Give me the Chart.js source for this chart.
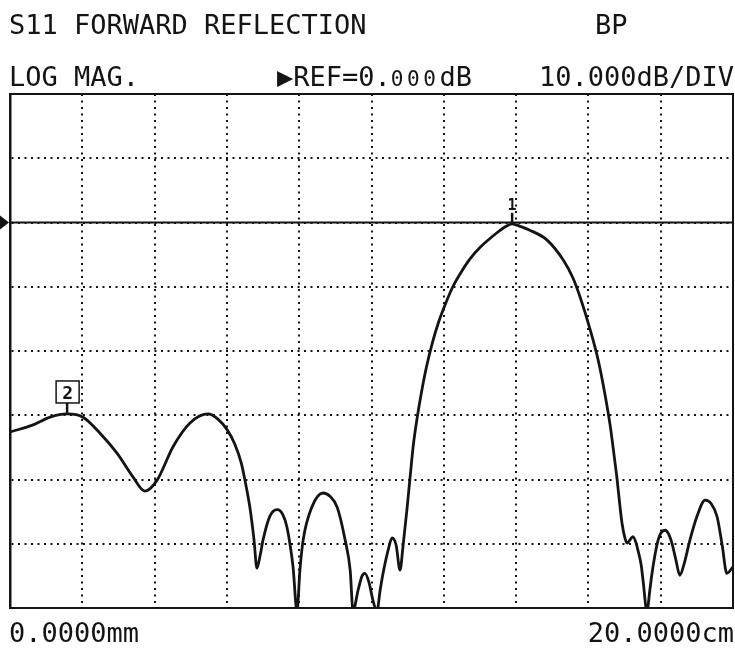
<!DOCTYPE html>
<html><head><meta charset="utf-8">
<script src="https://cdn.jsdelivr.net/npm/chart.js@4"></script>
<style>
html,body{margin:0;padding:0;background:#fff;overflow:hidden;}
#wrap{position:relative;width:735px;height:652px;}
canvas{position:absolute;left:0;top:0;}
.t{position:absolute;font-family:"DejaVu Sans Mono",monospace;font-size:27px;line-height:27px;color:#141414;white-space:pre;}
.s{font-size:21px;letter-spacing:3.6px;}
</style></head><body>
<div id="wrap">
<canvas id="c" width="735" height="652"></canvas>
<div class="t" style="left:9px;top:11px">S11 FORWARD REFLECTION</div>
<div class="t" style="left:595px;top:11px">BP</div>
<div class="t" style="left:9px;top:63px">LOG MAG.</div>
<div class="t" style="left:277px;top:63px">▶REF=0.<span class="s">000</span>dB</div>
<div class="t" style="right:1px;top:63px">10.000dB/DIV</div>
<div class="t" style="left:9px;top:619px">0.0000mm</div>
<div class="t" style="right:1px;top:619px">20.0000cm</div>
</div>
<script>
// Distance (mm) and S11 magnitude (dB)
const distanceMm = [0,6.4,11.1,15.8,20.2,24.9,29.6,34.0,37.3,40.7,45.1,49.8,54.8,57.5,60.0,62.2,64.0,65.3,66.4,67.5,68.3,69.2,70.0,71.9,73.9,75.5,76.6,77.7,78.3,79.4,80.2,81.1,83.5,86.6,88.5,90.5,92.7,94.1,94.9,96.3,97.4,98.2,99.3,100.4,101.5,102.4,103.2,104.6,105.7,106.8,107.9,108.7,109.8,110.7,111.6,112.6,113.8,115.2,116.8,118.5,120.5,122.5,124.5,127.2,130.0,134.7,136.9,138.9,141.1,143.8,148.5,153.0,155.7,157.7,160.5,162.7,164.6,166.0,167.1,167.9,168.7,169.3,170.1,170.7,171.5,172.3,173.2,173.7,174.6,175.1,176.2,177.0,177.6,178.4,179.3,180.1,181.2,182.3,183.1,184.2,185.3,186.4,188.1,190.0,192.3,193.9,195.6,197.0,198.3,200];
const s11dB = [-32.6,-31.5,-30.3,-29.8,-30.3,-32.8,-35.9,-39.6,-41.8,-40.1,-34.9,-31.2,-29.8,-30.6,-32.2,-34.5,-37.5,-41.0,-44.5,-49.4,-53.8,-51.8,-49.4,-45.7,-44.7,-45.5,-47.4,-51.0,-53.6,-60.5,-54.1,-49.4,-44.3,-42.1,-42.6,-44.3,-49.4,-54.1,-60.5,-57.2,-55.0,-54.6,-56.0,-58.8,-60.5,-57.2,-54.6,-51.0,-49.1,-50.2,-54.1,-50.5,-44.7,-39.5,-34.5,-30.5,-26.5,-22.5,-18.8,-15.6,-12.6,-10.0,-8.0,-5.7,-3.9,-1.6,-0.7,-0.2,-0.6,-1.2,-2.7,-5.8,-8.6,-11.6,-16.7,-21.4,-26.8,-31.5,-36.2,-39.8,-44.0,-46.8,-49.1,-49.9,-49.4,-48.9,-49.9,-51.0,-53.3,-55.6,-60.5,-57.2,-54.6,-51.8,-49.4,-48.3,-47.9,-48.6,-49.9,-52.5,-54.9,-53.3,-49.4,-45.8,-43.2,-43.7,-45.8,-50.2,-54.6,-53.6];
const refLevel = 0;
const xRange = [0, 200];
const yRange = [-60, 20];
const markerLabels = ['1', '2'];
const markerMm = [138.9, 15.8];
const markerDb = [-0.2, -29.8];

const ink = '#141414';
const overlay = {
  id: 'overlay',
  afterDatasetsDraw(chart) {
    const {ctx, chartArea: a, scales: {x, y}} = chart;
    ctx.save();
    ctx.strokeStyle = ink; ctx.fillStyle = ink;
    ctx.lineWidth = 2;
    ctx.beginPath();
    ctx.moveTo(a.left, a.top); ctx.lineTo(a.right, a.top); ctx.lineTo(a.right, a.bottom);
    ctx.stroke();
    const yr = y.getPixelForValue(refLevel);
    ctx.beginPath();
    ctx.moveTo(0, yr - 7); ctx.lineTo(a.left - 1, yr); ctx.lineTo(0, yr + 7); ctx.closePath(); ctx.fill();
    ctx.textAlign = 'center';
    ctx.textBaseline = 'alphabetic';
    for (let i = 0; i < markerLabels.length; i++) {
      const px = x.getPixelForValue(markerMm[i]);
      const py = y.getPixelForValue(markerDb[i]);
      ctx.lineWidth = 2.5;
      ctx.beginPath(); ctx.moveTo(px, py - 1); ctx.lineTo(px, py - 11); ctx.stroke();
      if (i === 0) {
        ctx.font = 'bold 15px "DejaVu Sans Mono"';
        ctx.fillText(markerLabels[i], px, py - 14);
      } else {
        ctx.lineWidth = 1.5;
        ctx.strokeRect(px - 11, py - 33, 23, 22);
        ctx.font = 'bold 18px "DejaVu Sans Mono"';
        ctx.fillText(markerLabels[i], px + 0.5, py - 15);
      }
    }
    ctx.restore();
  }
};

new Chart(document.getElementById('c'), {
  type: 'line',
  data: {
    datasets: [
      {
        data: distanceMm.map((d, i) => ({x: d, y: s11dB[i]})),
        borderColor: ink, borderWidth: 2.8, pointRadius: 0,
        cubicInterpolationMode: 'monotone', fill: false
      },
      {
        data: xRange.map(d => ({x: d, y: refLevel})),
        borderColor: ink, borderWidth: 2, pointRadius: 0, fill: false
      }
    ]
  },
  options: {
    responsive: false, animation: false, devicePixelRatio: 1,
    layout: {padding: {left: 10, right: 2, top: 94, bottom: 44}},
    plugins: {legend: {display: false}, tooltip: {enabled: false}},
    scales: {
      x: {
        type: 'linear', min: xRange[0], max: xRange[1],
        ticks: {display: false, stepSize: 20},
        grid: {color: ink, lineWidth: 2, drawTicks: false},
        border: {display: true, color: ink, width: 2, dash: [2, 4.5]}
      },
      y: {
        min: yRange[0], max: yRange[1],
        ticks: {display: false, stepSize: 10},
        grid: {color: ink, lineWidth: 2, drawTicks: false},
        border: {display: true, color: ink, width: 2.5, dash: [2, 4.5]}
      }
    }
  },
  plugins: [overlay]
});
</script>
</body></html>
